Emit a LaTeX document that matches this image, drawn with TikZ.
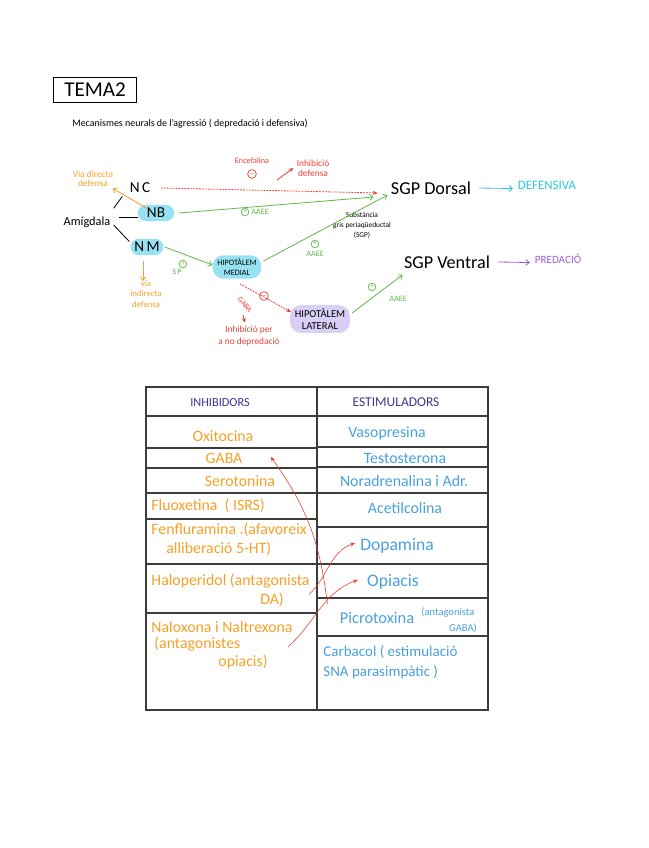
\documentclass[tikz,border=0pt]{standalone}
\usepackage{fontspec}
\setmainfont{Carlito}
\usepackage{tikz}
\usetikzlibrary{arrows.meta,positioning}

\definecolor{taronja}{RGB}{246,160,38}
\definecolor{blautaula}{RGB}{72,160,224}
\definecolor{indi}{RGB}{62,52,150}
\definecolor{vermell}{RGB}{236,62,52}
\definecolor{verd}{RGB}{96,186,72}
\definecolor{cian}{RGB}{44,196,226}
\definecolor{lilafort}{RGB}{156,92,220}
\definecolor{blauclar}{RGB}{150,225,242}
\definecolor{lila}{RGB}{216,206,246}
\definecolor{linia}{RGB}{60,60,60}

\begin{document}
\begin{tikzpicture}[x=0.03cm, y=0.03cm,
			txt/.style={inner sep=1pt, align=center},
			nota/.style={txt, font=\fontsize{7}{7.5}\selectfont},
			nucli/.style={txt, font=\fontsize{13}{14}\selectfont, fill=blauclar,
				rounded corners=7pt, minimum height=14pt},
			hipo/.style={txt, font=\fontsize{7}{8}\selectfont, rounded corners=9pt,
				inner xsep=4pt, inner ysep=3pt},
			senyal/.style={circle, draw, line width=0.6pt, inner sep=0pt,
				minimum size=6.5pt, font=\fontsize{6}{6}\selectfont},
			taulatxt/.style={txt, font=\fontsize{13.5}{16}\selectfont},
			inhib/.style={taulatxt, text=taronja},
			estim/.style={taulatxt, text=blautaula},
			traç/.style={line width=0.7pt},
			fverda/.style={traç, verd, -{Straight Barb[length=3pt,width=5pt]}},
			fvermella/.style={traç, vermell, -{Stealth[length=4pt,width=3.5pt]}},
			puntejat/.style={fvermella, dash pattern=on 1.5pt off 1pt},
			]
			\useasboundingbox (0,0) rectangle (648,-848);
			
			%% ── Títol ────────────────────────────────────────────────────────────────────
			\node[draw, line width=0.8pt, minimum width=71pt, minimum height=22pt,
				font=\fontsize{18}{18}\selectfont] (tema) at (95,-90) {TEMA2};
			\node[txt, font=\fontsize{8.5}{9}\selectfont] (subtitol) at (190,-124)
			{Mecanismes neurals de l'agressió ( depredació i defensiva)};
			
			%% ── Amígdala i nuclis ────────────────────────────────────────────────────────
			\node[txt, font=\fontsize{10.5}{11}\selectfont] (amig) at (87,-222) {Amígdala};
			\node[txt, font=\fontsize{13}{14}\selectfont] (nc) at (140,-188) {N\,C};
			\node[nucli, minimum width=31pt] (nb) at (156,-213) {NB};
			\node[nucli, minimum width=28pt] (nm) at (147,-247) {N\,M};
			
			%% ── Hipotàlem ────────────────────────────────────────────────────────────────
			\node[hipo, fill=blauclar] (hmed) at (237,-267) {HIPOTÀLEM\\MEDIAL};
			\node[hipo, fill=lila, font=\fontsize{9}{10}\selectfont] (hlat) at (320,-319)
			{HIPOTÀLEM\\LATERAL};
			
			%% ── Substància gris periaqüeductal ───────────────────────────────────────────
			\node[txt, font=\fontsize{15.5}{16}\selectfont] (sgpd) at (431,-188) {SGP Dorsal};
			\node[txt, font=\fontsize{15.5}{16}\selectfont] (sgpv) at (447,-262) {SGP Ventral};
			\node[txt, text=cian, font=\fontsize{11}{12}\selectfont] (defens) at (547,-185) {DEFENSIVA};
			\node[txt, text=lilafort, font=\fontsize{9.5}{10}\selectfont] (predac) at (558,-259) {PREDACIÓ};
			\node[nota, font=\fontsize{6.3}{8.5}\selectfont] (sgpnom) at (362,-225)
			{Substància\\gris periaqüeductal\\(SGP)};
			
			%% ── Vies de defensa ──────────────────────────────────────────────────────────
			\node[nota, text=taronja, font=\fontsize{8}{8}\selectfont] (viadir) at (93,-179)
			{Via directa\\defensa};
			\node[nota, text=taronja, font=\fontsize{7.5}{9}\selectfont] (viaind) at (146,-294)
			{via\\indirecta\\defensa};
			
			%% ── Etiquetes vermelles ──────────────────────────────────────────────────────
			\node[nota, text=vermell] (encef) at (252,-161) {Encefalina};
			\node[senyal, draw=vermell, text=vermell] (encefsig) at (252,-174) {$-$};
			\node[nota, text=vermell, font=\fontsize{8}{8.5}\selectfont] (inhdef) at (313,-168)
			{Inhibició\\defensa};
			\node[nota, text=vermell, font=\fontsize{6.5}{7}\selectfont, rotate=-50] (gaba) at (245,-305) {GABA};
			\node[senyal, draw=vermell, text=vermell, minimum size=5pt] (gabasig) at (264,-296) {$-$};
			\node[nota, text=vermell, font=\fontsize{8}{10}\selectfont] (inhpred) at (249,-336)
			{Inhibició per\\a no depredació};
			
			%% ── Etiquetes verdes ─────────────────────────────────────────────────────────
			\node[senyal, draw=verd, text=verd] (sig1) at (245,-212) {+};
			\node[nota, text=verd] (aaee1) at (260,-212) {AAEE};
			\node[senyal, draw=verd, text=verd] (sig2) at (315,-244) {+};
			\node[nota, text=verd] (aaee2) at (315,-254) {AAEE};
			\node[senyal, draw=verd, text=verd] (sig3) at (372,-287) {+};
			\node[nota, text=verd] (aaee3) at (398,-299) {AAEE};
			\node[senyal, draw=verd, text=verd] (sig4) at (183,-264) {+};
			\node[nota, text=verd] (sp) at (177,-272) {S\,P};
			
			%% ── Connexions ───────────────────────────────────────────────────────────────
			\draw[traç] ([shift={(2,7)}]amig.north east) -- ([shift={(-6,-2)}]nc.south west);
			\draw[traç] ([shift={(7,5)}]amig.east) -- ([shift={(0,-4)}]nb.west);
			\draw[traç] ([shift={(2,-3)}]amig.east) -- ([shift={(-1,-3)}]nm.north west);
			\draw[traç, taronja, -{Straight Barb[length=3pt,width=5pt]}]
			([shift={(-8,4)}]nb.center) -- ([shift={(-2,0)}]viadir.south east);
			\draw[traç, taronja, -{Straight Barb[length=3pt,width=5pt]}]
			([shift={(-4,-6)}]nm.south) -- ([shift={(-3,-2)}]viaind.north);
			\draw[puntejat] ([xshift=8]nc.east) -- ([shift={(-12,-5)}]sgpd.west);
			\draw[fverda] ([xshift=4]nb.east) -- ([shift={(-16,-9)}]sgpd.west);
			\draw[fverda] ([xshift=1]nm.east) -- ([shift={(0,2)}]hmed.west);
			\draw[fverda] ([shift={(2,6)}]hmed.east) -- ([shift={(-2,-7)}]sgpd.west);
			\draw[fverda] ([shift={(2,6)}]hlat.east) -- ([shift={(0,-5)}]sgpv.south west);
			\draw[traç, cian, -{Straight Barb[length=3pt,width=5pt]}]
			([xshift=6]sgpd.east) -- ([xshift=-3,yshift=-3]defens.west);
			\draw[traç, lilafort, -{Straight Barb[length=3pt,width=5pt]}]
			([xshift=6]sgpv.east) -- ([xshift=-3,yshift=-3]predac.west);
			\draw[puntejat] ([shift={(3,-5)}]hmed.south) -- ([shift={(1,7)}]hlat.west);
			\coordinate (inhpeu) at (277,-180);
			\draw[fvermella] (inhpeu) -- ([shift={(-2,0)}]inhdef.west);
			\draw[fvermella] ([shift={(-2,-10)}]gaba.center) -- ([shift={(-4,2)}]inhpred.north);
			
			%% ── Taula ────────────────────────────────────────────────────────────────────
			\draw[linia, line width=0.9pt] (146,-387) rectangle (488,-710);
			\draw[linia, line width=0.9pt] (317,-387) -- (317,-710);
			\foreach \y in {416,448,468,493,519,564,613}
			\draw[linia, line width=0.9pt] (146,-\y) -- (317,-\y);
			\foreach \y in {416,447,467,493,527,564,598,636}
			\draw[linia, line width=0.9pt] (317,-\y) -- (488,-\y);
			
			\node[txt, text=indi, font=\fontsize{10.5}{11}\selectfont] (capinh) at (220,-403) {INHIBIDORS};
			\node[txt, text=indi, font=\fontsize{11.5}{12}\selectfont] (capest) at (396,-402) {ESTIMULADORS};
			
			\node[inhib] (oxit) at (223,-436) {Oxitocina};
			\node[inhib] (gabat) at (224,-458) {GABA};
			\node[inhib] (sero) at (240,-481) {Serotonina};
			\node[inhib, anchor=west] (fluox) at (150,-506) {Fluoxetina \ ( ISRS)};
			\node[inhib, anchor=west] (fenf) at (150,-530) {Fenfluramina .(afavoreix};
			\node[inhib, anchor=west] (fenf2) at (165,-549) {alliberació 5-HT)};
			\node[inhib, anchor=west] (halo) at (150,-581) {Haloperidol (antagonista};
			\node[inhib] (haloda) at (272,-600) {DA)};
			\node[inhib, anchor=west] (nalox) at (150,-627) {Naloxona i Naltrexona};
			\node[inhib, anchor=west] (nalox2) at (153,-644) {(antagonistes};
			\node[inhib] (nalox3) at (243,-662) {opiacis)};
			
			\node[estim] (vaso) at (387,-433) {Vasopresina};
			\node[estim] (testo) at (405,-458) {Testosterona};
			\node[estim] (nora) at (404,-481) {Noradrenalina i Adr.};
			\node[estim] (acet) at (405,-508) {Acetilcolina};
			\node[estim, font=\fontsize{15}{16}\selectfont] (dopa) at (397,-546) {Dopamina};
			\node[estim, font=\fontsize{15}{16}\selectfont] (opia) at (393,-582) {Opiacis};
			\node[estim, font=\fontsize{14}{16}\selectfont] (picro) at (377,-618) {Picrotoxina};
			\node[estim, font=\fontsize{9}{9}\selectfont, anchor=west] (picro2) at (420,-613) {(antagonista};
			\node[estim, font=\fontsize{9}{9}\selectfont] (picro3) at (463,-628) {GABA)};
			\node[estim, font=\fontsize{12.8}{14}\selectfont, anchor=west] (carb) at (322,-652) {Carbacol ( estimulació};
			\node[estim, font=\fontsize{12.8}{14}\selectfont, anchor=west] (carb2) at (322,-672) {SNA parasimpàtic )};
			
			%% ── Fletxes de la taula ──────────────────────────────────────────────────────
			\draw[fvermella, line width=0.5pt] ([shift={(-11,14)}]picro.west) to[out=97, in=-54]
			([shift={(27,1)}]gabat.east);
			\draw[fvermella, line width=0.5pt] ([shift={(-2,-5)}]halo.south east) to[out=43, in=200]
			([shift={(-4,3)}]dopa.west);
			\draw[fvermella, line width=0.5pt] ([shift={(-6,-13)}]nalox.south east) to[out=42, in=200]
			([shift={(-8,2)}]opia.west);
			
		\end{tikzpicture}
\end{document}
